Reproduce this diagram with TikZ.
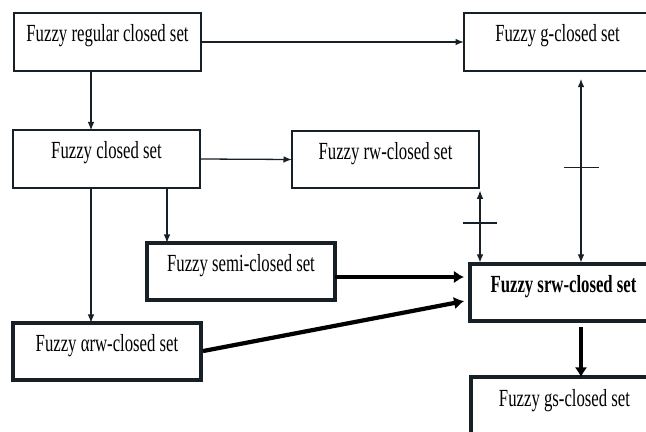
\documentclass[tikz,border=0pt]{standalone}
\usepackage{fontspec}
\setmainfont{Liberation Serif}[FakeStretch=0.68]
\usepackage{tikz}
\usetikzlibrary{arrows.meta}
\definecolor{ink}{RGB}{22,32,38}

\begin{document}
\begin{tikzpicture}[x=0.03cm, y=-0.03cm,
		box/.style={draw=ink, line width=1.6pt, inner sep=0pt, outer sep=0pt,
			minimum width=5.62cm, minimum height=1.72cm,
			text height=0.5cm, text depth=0.5cm,
			font=\fontsize{21}{24}\selectfont},
		heavybox/.style={box, line width=3.2pt},
		thin/.style={draw=ink, line width=1.1pt, -{Latex[length=2.5mm,width=2mm]}},
		both/.style={thin, {Latex[length=2.5mm,width=2mm]}-{Latex[length=2.5mm,width=2mm]}},
		heavy/.style={draw=black, line width=3.6pt, -{Latex[length=3mm,width=3.8mm]}},
		bar/.style={draw=ink, line width=1.1pt}]
			%%%%% START %%%%%
			
			\useasboundingbox[fill=white] (0, 0) rectangle (646, 432);
			
			\coordinate (laneA) at (91, 0);
			\coordinate (laneB) at (167, 0);
			\coordinate (laneC) at (480, 0);
			\coordinate (laneD) at (581, 0);
			\coordinate (rowE) at (0, 277);
			\coordinate (rowF) at (0, 300);
			
			\node[box] (regular) at (107.5, 42) {Fuzzy regular closed set};
			\node[box] (gclosed) at (557.5, 42) {Fuzzy g-closed set};
			\node[box] (closed) at (106.5, 159) {Fuzzy closed set};
			\node[box] (rw) at (385.5, 159.5) {Fuzzy rw-closed set};
			\node[heavybox] (semi) at (241, 271.5) {Fuzzy semi-closed set};
			\node[heavybox] (arw) at (107, 351.5) {Fuzzy αrw-closed set};
			\node[heavybox] (srw) at (563.5, 292.5) {\bfseries Fuzzy srw-closed set};
			\node[heavybox] (gs) at (564.5, 406) {Fuzzy gs-closed set};
			
			\draw[thin] (regular.east) -- (gclosed.west);
			\draw[thin] (regular.south -| laneA) -- (closed.north -| laneA);
			\draw[thin] (closed.east) -- (rw.west);
			\draw[thin] (closed.south -| laneA) -- (arw.north -| laneA);
			\draw[thin] (closed.south -| laneB) -- (semi.north -| laneB);
			
			\draw[both, shorten <=2pt, shorten >=1pt] (rw.south -| laneC) -- coordinate[pos=0.46] (cutC) (srw.north -| laneC);
			\draw[bar] (cutC) +(-17, 0) -- +(17, 0);
			\draw[both, shorten <=7pt, shorten >=1pt] (gclosed.south -| laneD) -- coordinate[pos=0.5] (cutD) (srw.north -| laneD);
			\draw[bar] (cutD) +(-17, 0) -- +(18, 0);
			
			\draw[heavy, shorten >=5pt] (semi.east |- rowE) -- (srw.west |- rowE);
			\draw[heavy, shorten <=2pt, shorten >=5pt] (arw.east) -- (srw.west |- rowF);
			\draw[heavy, shorten <=5pt] (srw.south -| laneD) -- (gs.north -| laneD);
			
			%%%%% END %%%%%
\end{tikzpicture}
\end{document}
